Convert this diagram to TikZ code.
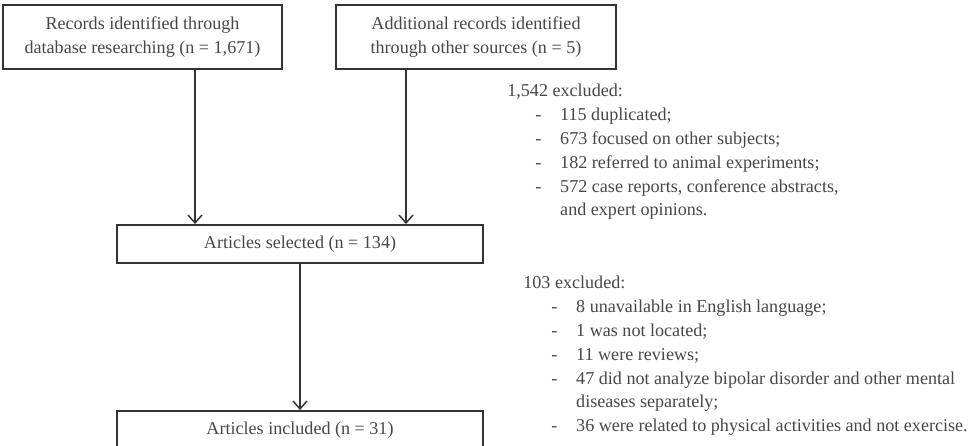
\documentclass[tikz,border=0pt]{standalone}
\usepackage{fontspec}
\setmainfont{Liberation Serif}
\usepackage{tikz}
\usetikzlibrary{
  calc,                  % Coordinate math
  arrows.meta            % Barbed arrow tips
}

\definecolor{boxline}{HTML}{333333}
\definecolor{boxtext}{HTML}{474747}

% Indents of the excluded lists
\newcommand{\exdash}{\hspace*{15.9pt}\makebox[14.2pt][l]{-}}
\newcommand{\exwrap}{\hspace*{30.1pt}}

\begin{document}
\fontsize{10.3}{13.55}\selectfont
\begin{tikzpicture}[x=0.02cm, y=-0.02cm,
        font=\fontsize{10.3}{13.55}\selectfont,
        stage/.style={draw=boxline, line width=1.1pt, text=boxtext, align=center, inner sep=0pt},
        flow/.style={draw=boxline, line width=0.85pt, -{Straight Barb[length=4.5pt, width=8pt]}},
        excl/.style={text=boxtext, align=left, inner sep=0pt, anchor=north west}]
        % Frame of the figure
        \useasboundingbox (0,0) rectangle (974,446);
        \clip (0,0) rectangle (974,446);
        
        % Search boxes
        \node[stage, minimum width=5.58cm, minimum height=1.28cm] (rec) at (142.5,37)
            {Records identified through\\database researching (n = 1,671)};
        \node[stage, minimum width=5.6cm, minimum height=1.28cm] (add) at (476,37)
            {Additional records identified\\through other sources (n = 5)};
        
        % Selected and included articles
        \node[stage, minimum width=7.32cm, minimum height=0.76cm] (sel) at (300,244)
            {Articles selected (n = 134)};
        \node[stage, minimum width=7.32cm, minimum height=0.76cm] (inc) at (300,430)
            {Articles included (n = 31)};
        
        % Arrows between the stages
        \coordinate (a1) at (195,0);
        \coordinate (a2) at (406,0);
        \draw[flow] (a1 |- rec.south) -- (a1 |- sel.north);
        \draw[flow] (a2 |- add.south) -- (a2 |- sel.north);
        \draw[flow] (sel.south) -- (inc.north);
        
        % Exclusions after the search
        \node[excl] (ex1) at (507,84) {1,542 excluded:\\
            \exdash 115 duplicated;\\
            \exdash 673 focused on other subjects;\\
            \exdash 182 referred to animal experiments;\\
            \exdash 572 case reports, conference abstracts,\\
            \exwrap and expert opinions.};
        
        % Exclusions after the selection
        \node[excl] (ex2) at (523,276) {103 excluded:\\
            \exdash 8 unavailable in English language;\\
            \exdash 1 was not located;\\
            \exdash 11 were reviews;\\
            \exdash 47 did not analyze bipolar disorder and other mental\\
            \exwrap diseases separately;\\
            \exdash 36 were related to physical activities and not exercise.};
        
    \end{tikzpicture}
\end{document}
